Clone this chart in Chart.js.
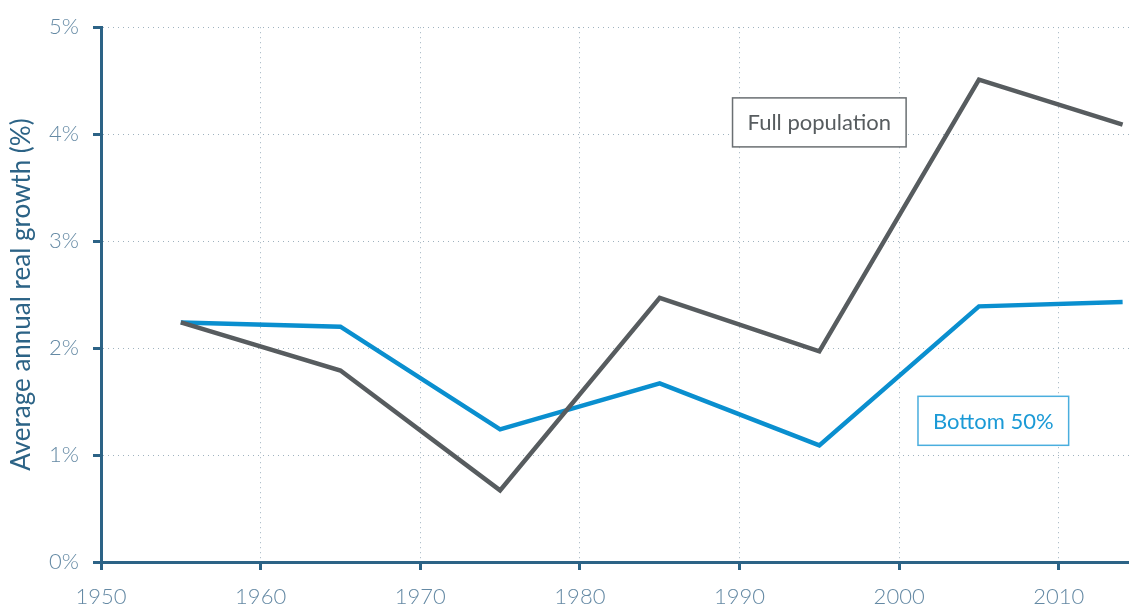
<!DOCTYPE html>
<html>
<head>
<meta charset="utf-8">
<script src="https://cdn.jsdelivr.net/npm/chart.js@4/dist/chart.umd.min.js"></script>
<style>
  html, body { margin: 0; padding: 0; background: #fff; }
  #wrap { width: 1129px; height: 607px; position: relative; }
</style>
</head>
<body>
<div id="wrap"><canvas id="growth-chart"></canvas></div>
<script>
// average annual real growth, by decade midpoint
const years = [1955, 1965, 1975, 1985, 1995, 2005, 2014];
const fullPopulation = [2.24, 1.79, 0.67, 2.47, 1.97, 4.51, 4.09];
const bottom50 = [2.24, 2.20, 1.24, 1.67, 1.09, 2.39, 2.43];

const axisBlue = '#2c6386';
const tickText = '#6489a4';
const gridDots = '#9fb2bf';
const grey = '#575c5f';
const blue = '#0a8fcf';

// series labels boxed next to the lines, placed in data units
const seriesLabels = [
  { text: 'Full population', x: 1995.0, y: 4.11, color: grey, border: '#6a6f72' },
  { text: 'Bottom 50%', x: 2005.9, y: 1.32, color: '#1b9ad6', border: '#4aaede' }
];

const boxLabels = {
  id: 'boxLabels',
  afterDatasetsDraw(chart) {
    const ctx = chart.ctx;
    const xs = chart.scales.x, ys = chart.scales.y;
    ctx.save();
    ctx.font = '400 22px Lato';
    ctx.textAlign = 'center';
    ctx.textBaseline = 'middle';
    seriesLabels.forEach(l => {
      const cx = xs.getPixelForValue(l.x);
      const cy = ys.getPixelForValue(l.y);
      const w = ctx.measureText(l.text).width + 30;
      const h = 49;
      ctx.fillStyle = '#fff';
      ctx.fillRect(cx - w / 2, cy - h / 2, w, h);
      ctx.lineWidth = 1.5;
      ctx.strokeStyle = l.border;
      ctx.strokeRect(cx - w / 2, cy - h / 2, w, h);
      ctx.fillStyle = l.color;
      ctx.fillText(l.text, cx, cy + 1);
    });
    ctx.restore();
  }
};

const toPoints = vals => vals.map((v, i) => ({ x: years[i], y: v }));

new Chart(document.getElementById('growth-chart'), {
  type: 'line',
  data: {
    datasets: [{
      label: 'Full population',
      data: toPoints(fullPopulation),
      borderColor: grey,
      borderWidth: 4.5,
      pointRadius: 0,
      tension: 0
    }, {
      label: 'Bottom 50%',
      data: toPoints(bottom50),
      borderColor: blue,
      borderWidth: 4.5,
      pointRadius: 0,
      tension: 0
    }]
  },
  options: {
    responsive: true,
    maintainAspectRatio: false,
    animation: false,
    layout: { padding: { top: 13, right: 0, left: 6, bottom: 0 } },
    plugins: {
      legend: { display: false },
      tooltip: { enabled: false }
    },
    scales: {
      x: {
        type: 'linear',
        min: 1950,
        max: 2014.4,
        grid: {
          color: gridDots,
          lineWidth: 1,
          tickLength: 8,
          tickColor: axisBlue,
          tickWidth: 3,
          tickBorderDash: []
        },
        border: { color: axisBlue, width: 3, dash: [1, 4] },
        ticks: {
          stepSize: 10,
          includeBounds: false,
          padding: 14,
          color: tickText,
          font: { family: 'Lato', size: 22, weight: 300 },
          maxRotation: 0,
          callback: v => String(v)
        },
        afterFit(scale) { scale.height = 45; }
      },
      y: {
        min: 0,
        max: 5,
        grid: {
          color: gridDots,
          lineWidth: 1,
          tickLength: 8,
          tickColor: axisBlue,
          tickWidth: 3,
          tickBorderDash: []
        },
        border: { color: axisBlue, width: 3, dash: [1, 4] },
        ticks: {
          stepSize: 1,
          padding: 14,
          color: tickText,
          font: { family: 'Lato', size: 22, weight: 300 },
          callback: v => v + '%'
        },
        title: {
          display: true,
          text: 'Average annual real growth (%)',
          color: axisBlue,
          font: { family: 'Lato', size: 26, weight: 400 },
          padding: { top: 0, bottom: 4 }
        },
        afterFit(scale) { scale.width = 95; }
      }
    }
  },
  plugins: [boxLabels]
});
</script>
</body>
</html>
